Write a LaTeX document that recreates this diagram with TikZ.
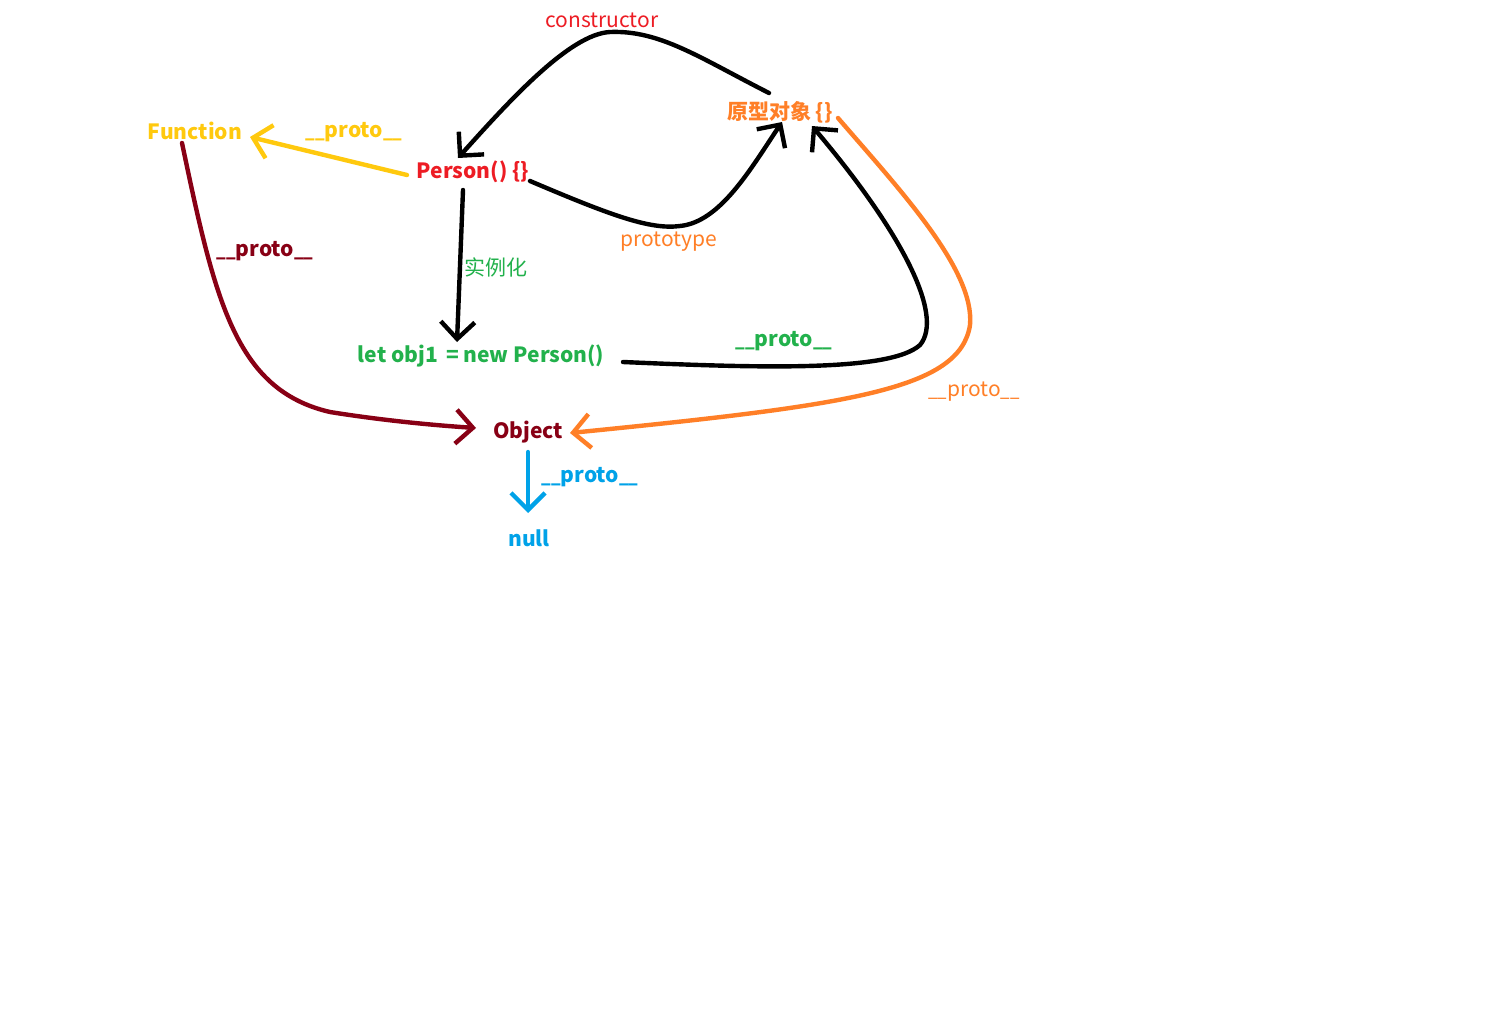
\documentclass[tikz,border=0pt]{standalone}
\usepackage{fontspec}
\setmainfont{Noto Sans CJK SC}
\usetikzlibrary{arrows.meta}
\definecolor{pred}{HTML}{ED1C24}
\definecolor{porange}{HTML}{FF7F27}
\definecolor{pyellow}{HTML}{FFC90E}
\definecolor{pgreen}{HTML}{22B14C}
\definecolor{pdark}{HTML}{880015}
\definecolor{pblue}{HTML}{00A2E8}
\newcommand\myuu{\scalebox{0.8}[1]{\_\_}}
\newcommand\myproto{\myuu proto\myuu}
\tikzset{
  lbl/.style={inner sep=0pt, font=\fontsize{10.5}{12}\selectfont},
  blbl/.style={inner sep=0pt, font=\fontsize{10.5}{12}\selectfont\bfseries},
  conn/.style={line width=2.2pt, line cap=round, line join=round,
    -{Straight Barb[length=8.5pt,width=17pt,line width=2.2pt]}}
}
\begin{document}
\begin{tikzpicture}[x=0.5pt,y=-0.5pt]
\path[use as bounding box, fill=white] (0,0) rectangle (1508,1033);
% nodes
\node[lbl, text=pred] (ctor) at (602,20) {constructor};
\node[blbl, text=porange] (proto) at (780,112) {原型对象 \{\}};
\node[blbl, text=pyellow] (func) at (195,131) {Function};
\node[blbl, text=pyellow] (l1) at (354,132) {\myproto};
\node[blbl, text=pred] (person) at (473,172) {Person() \{\}};
\node[lbl, text=porange] (ptype) at (669,242) {prototype};
\node[lbl, text=pgreen] (inst) at (496,267) {实例化};
\node[blbl, text=pdark] (l2) at (265,251) {\myproto};
\node[blbl, text=pgreen] (obj1) at (481,356) {let obj1 \,= new Person()};
\node[blbl, text=pgreen] (l3) at (784,341) {\myproto};
\node[lbl, text=porange] (l4) at (974,392) {\myproto};
\node[blbl, text=pdark] (object) at (528,432) {Object};
\node[blbl, text=pblue] (l5) at (590,477) {\myproto};
\node[blbl, text=pblue] (null) at (529,538) {null};
% connectors
% constructor
\draw[conn, black] ([shift={(-11,-19)}]proto.center)
  .. controls (700,58) and (660,30) .. (610,32)
  .. controls (570,34) and (510,100) .. ([shift={(-15,-14)}]person.center);
% Person -> Function
\draw[conn, pyellow] ([shift={(-66,3)}]person.center) -- ([shift={(55,6)}]func.center);
% prototype
\draw[conn, black] ([shift={(57,9)}]person.center)
  .. controls (610,215) and (650,230) .. (680,226)
  .. controls (720,222) and (750,170) .. ([shift={(2,10)}]proto.center);
% instantiate
\draw[conn, black] ([shift={(-10,18)}]person.center) -- ([shift={(-24,-14)}]obj1.center);
% obj1 -> proto
\draw[conn, black] ([shift={(142,6)}]obj1.center)
  .. controls (760,368) and (890,372) .. (920,345)
  .. controls (945,315) and (900,230) .. ([shift={(32,14)}]proto.center);
% proto -> Object
\draw[conn, porange] ([shift={(58,6)}]proto.center)
  .. controls (900,190) and (975,270) .. (970,325)
  .. controls (960,390) and (850,405) .. ([shift={(42,1)}]object.center);
% Function -> Object
\draw[conn, pdark] ([shift={(-13,12)}]func.center)
  .. controls (215,300) and (235,390) .. (330,412)
  .. controls (380,420) and (430,425) .. ([shift={(-52,-4)}]object.center);
% Object -> null
\draw[conn, pblue] ([shift={(0,20)}]object.center) -- ([shift={(-1,-25)}]null.center);
\end{tikzpicture}
\end{document}
